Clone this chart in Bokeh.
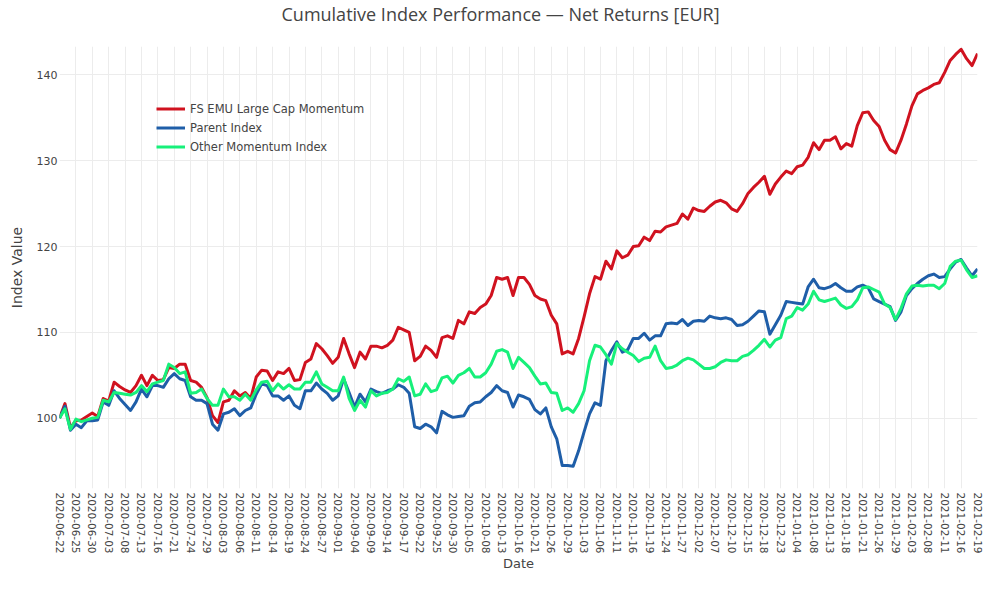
import math
from bokeh.plotting import figure
from bokeh.models import (ColumnDataSource, Range1d, FixedTicker, SingleIntervalTicker,
                          Legend, LegendItem)
from bokeh.embed import file_html
from bokeh.resources import INLINE

tick_labels = [
    "2020-06-22", "2020-06-25", "2020-06-30", "2020-07-03", "2020-07-08", "2020-07-13",
    "2020-07-16", "2020-07-21", "2020-07-24", "2020-07-29", "2020-08-03", "2020-08-06",
    "2020-08-11", "2020-08-14", "2020-08-19", "2020-08-24", "2020-08-27", "2020-09-01",
    "2020-09-04", "2020-09-09", "2020-09-14", "2020-09-17", "2020-09-22", "2020-09-25",
    "2020-09-30", "2020-10-05", "2020-10-08", "2020-10-13", "2020-10-16", "2020-10-21",
    "2020-10-26", "2020-10-29", "2020-11-03", "2020-11-06", "2020-11-11", "2020-11-16",
    "2020-11-19", "2020-11-24", "2020-11-27", "2020-12-02", "2020-12-07", "2020-12-10",
    "2020-12-15", "2020-12-18", "2020-12-23", "2021-01-04", "2021-01-08", "2021-01-13",
    "2021-01-18", "2021-01-21", "2021-01-26", "2021-01-29", "2021-02-03", "2021-02-08",
    "2021-02-11", "2021-02-16", "2021-02-19",
]

fs_emu = [
    100.0, 101.7, 98.9, 99.7, 99.8, 100.2, 100.6, 100.2, 102.3, 102.0,
    104.2, 103.7, 103.3, 103.0, 103.8, 105.0, 103.8, 105.0, 104.4, 104.5,
    105.9, 105.8, 106.3, 106.3, 104.4, 104.2, 103.6, 102.4, 100.3, 99.5,
    101.9, 102.1, 103.2, 102.6, 103.0, 102.3, 104.8, 105.6, 105.5, 104.4,
    105.4, 105.2, 105.8, 104.4, 104.5, 106.5, 106.9, 108.7, 108.1, 107.3,
    106.4, 107.1, 109.3, 107.5, 105.9, 107.7, 106.9, 108.4, 108.4, 108.2,
    108.5, 109.1, 110.6, 110.3, 110.0, 106.7, 107.2, 108.4, 107.9, 107.1,
    109.4, 109.6, 109.3, 111.4, 111.0, 112.4, 112.2, 112.9, 113.3, 114.3,
    116.4, 116.2, 116.4, 114.3, 116.4, 116.4, 115.6, 114.3, 113.9, 113.7,
    112.0, 111.0, 107.5, 107.8, 107.5, 109.3, 111.8, 114.5, 116.5, 116.2,
    118.3, 117.4, 119.5, 118.7, 119.0, 120.0, 120.1, 121.1, 120.7, 121.8,
    121.7, 122.3, 122.5, 122.7, 123.8, 123.2, 124.5, 124.2, 124.1, 124.7,
    125.2, 125.4, 125.1, 124.4, 124.1, 125.0, 126.2, 126.9, 127.5, 128.2,
    126.1, 127.3, 128.1, 128.8, 128.5, 129.3, 129.5, 130.4, 132.1, 131.3,
    132.4, 132.4, 132.8, 131.4, 132.0, 131.7, 134.1, 135.6, 135.7, 134.7,
    134.0, 132.4, 131.3, 130.9, 132.4, 134.3, 136.4, 137.8, 138.2, 138.5,
    138.9, 139.1, 140.3, 141.7, 142.4, 143.0, 141.9, 141.1, 142.5,
]

parent = [
    100.0, 101.4, 98.6, 99.3, 98.9, 99.7, 99.7, 99.8, 101.9, 101.5,
    103.2, 102.3, 101.6, 100.9, 101.9, 103.4, 102.5, 103.8, 103.8, 103.6,
    104.6, 105.2, 104.6, 104.4, 102.5, 102.1, 102.1, 101.7, 99.3, 98.6,
    100.5, 100.7, 101.1, 100.3, 100.9, 101.2, 102.8, 104.0, 103.8, 102.6,
    102.6, 102.1, 102.6, 101.5, 101.1, 103.2, 103.2, 104.1, 103.4, 102.9,
    102.1, 102.6, 104.6, 103.0, 101.3, 102.8, 101.9, 103.4, 103.1, 102.9,
    103.2, 103.4, 103.9, 103.6, 102.9, 99.0, 98.8, 99.3, 99.0, 98.3,
    100.8, 100.4, 100.1, 100.2, 100.3, 101.4, 101.8, 101.9, 102.5, 103.0,
    103.8, 103.2, 103.0, 101.3, 102.7, 102.5, 102.2, 101.0, 100.5, 101.2,
    99.0, 97.6, 94.5, 94.5, 94.4, 96.2, 98.4, 100.5, 101.8, 101.5,
    106.7, 107.9, 108.9, 107.7, 108.0, 109.3, 109.3, 109.9, 109.1, 109.6,
    109.6, 111.0, 111.1, 111.0, 111.5, 110.8, 111.3, 111.4, 111.3, 111.9,
    111.7, 111.6, 111.7, 111.5, 110.8, 110.9, 111.3, 111.9, 112.5, 112.4,
    109.8, 110.9, 112.0, 113.6, 113.5, 113.4, 113.3, 115.3, 116.2, 115.2,
    115.1, 115.3, 115.7, 115.2, 114.8, 114.8, 115.3, 115.5, 115.2, 113.9,
    113.6, 113.3, 113.0, 111.4, 112.4, 114.3, 115.1, 115.7, 116.2, 116.6,
    116.8, 116.4, 116.5, 117.4, 118.2, 118.5, 117.5, 116.6, 117.4,
]

other_mom = [
    100.0, 101.1, 98.7, 99.9, 99.6, 99.8, 100.0, 100.1, 102.1, 101.9,
    103.0, 102.9, 102.8, 102.7, 103.0, 103.8, 103.1, 104.0, 104.2, 104.4,
    106.3, 105.9, 105.2, 105.4, 102.9, 103.0, 103.4, 102.3, 101.5, 101.5,
    103.4, 102.5, 102.5, 102.1, 102.8, 102.1, 103.3, 104.2, 104.3, 103.2,
    104.0, 103.4, 103.9, 103.4, 103.4, 104.2, 104.2, 105.4, 104.0, 103.6,
    103.2, 103.2, 104.8, 102.3, 100.9, 102.1, 101.3, 103.2, 102.6, 102.9,
    103.0, 103.4, 104.6, 104.3, 104.8, 102.6, 102.8, 104.0, 103.1, 103.3,
    104.7, 104.9, 104.1, 105.0, 105.3, 105.8, 104.8, 104.8, 105.3, 106.3,
    107.8, 108.0, 107.7, 105.8, 107.1, 106.5, 105.9, 104.9, 104.0, 104.1,
    103.0, 102.9, 100.9, 101.2, 100.7, 101.7, 103.2, 106.7, 108.5, 108.3,
    107.4, 106.3, 108.7, 108.1, 107.7, 107.3, 106.6, 107.0, 107.1, 108.4,
    106.7, 105.8, 105.9, 106.2, 106.7, 107.0, 106.8, 106.3, 105.8, 105.8,
    106.0, 106.5, 106.8, 106.7, 106.7, 107.2, 107.4, 107.9, 108.5, 109.2,
    108.3, 109.1, 109.4, 111.6, 111.9, 112.9, 112.6, 113.3, 114.8, 113.8,
    113.6, 113.8, 114.0, 113.2, 112.8, 113.0, 113.8, 115.2, 115.3, 115.0,
    114.7, 113.3, 112.9, 111.5, 112.8, 114.5, 115.4, 115.5, 115.4, 115.5,
    115.5, 115.1, 115.7, 117.7, 118.3, 118.4, 117.3, 116.4, 116.6,
]

series_names = ["FS EMU Large Cap Momentum", "Parent Index", "Other Momentum Index"]
series_colors = ["#d0121f", "#1f5ea8", "#17f07a"]

title_text = "Cumulative Index Performance \u2014 Net Returns [EUR]"
x_title = "Date"
y_title = "Index Value"

FONT = "DejaVu Sans"
TXT = "#444444"

W, H = 984, 574
LEFT, RIGHT, TOP, BOTTOM = 59, 7, 46, 86

idx = list(range(len(fs_emu)))
src = ColumnDataSource(dict(x=idx, fs=fs_emu, parent=parent, other=other_mom))

p = figure(width=W, height=H, output_backend="svg", toolbar_location=None,
           x_range=Range1d(0, len(fs_emu) - 1), y_range=Range1d(91.81, 143.32),
           min_border_left=LEFT, min_border_right=RIGHT, min_border_top=TOP,
           min_border_bottom=BOTTOM)

# a blank second line lifts the title towards the top edge
p.title.text = title_text + "\n "
p.title.align = "left"
p.title.offset = 222
p.title.standoff = 0
p.title.text_line_height = 0.85
p.title.text_font = "Open Sans"
p.title.text_font_size = "18px"
p.title.text_font_style = "normal"
p.title.text_color = TXT

p.background_fill_color = "white"
p.border_fill_color = "white"
p.outline_line_color = None

r1 = p.line("x", "fs", source=src, line_color=series_colors[0], line_width=3, line_join="round")
r2 = p.line("x", "parent", source=src, line_color=series_colors[1], line_width=3, line_join="round")
r3 = p.line("x", "other", source=src, line_color=series_colors[2], line_width=3, line_join="round")

tick_pos = [3 * k for k in range(len(tick_labels))]
p.xaxis.ticker = FixedTicker(ticks=tick_pos)
p.xaxis.major_label_overrides = {t: lab for t, lab in zip(tick_pos, tick_labels)}
p.xaxis.major_label_orientation = -math.pi / 2
p.yaxis.ticker = SingleIntervalTicker(interval=10)
p.xaxis.axis_label = x_title
p.yaxis.axis_label = y_title

for ax in (p.xaxis, p.yaxis):
    ax.axis_line_color = None
    ax.major_tick_line_color = None
    ax.minor_tick_line_color = None
    ax.major_tick_out = 0
    ax.major_tick_in = 0
    ax.minor_tick_out = 0
    ax.minor_tick_in = 0
    ax.major_label_text_font = FONT
    ax.major_label_text_color = TXT
    ax.axis_label_text_font = FONT
    ax.axis_label_text_font_style = "normal"
    ax.axis_label_text_color = TXT

p.xaxis.major_label_text_font_size = "10.5px"
p.yaxis.major_label_text_font_size = "11px"
p.xaxis.major_label_standoff = 4
p.xaxis.axis_label_standoff = -1
p.xaxis.axis_label_text_font_size = "13px"
p.yaxis.major_label_standoff = 2
p.yaxis.axis_label_standoff = 9
p.yaxis.axis_label_text_font_size = "14px"

p.xgrid.grid_line_color = "#ececec"
p.ygrid.grid_line_color = "#ececec"

frame_h = H - TOP - BOTTOM

legend = Legend(items=[LegendItem(label=series_names[0], renderers=[r1]),
                       LegendItem(label=series_names[1], renderers=[r2]),
                       LegendItem(label=series_names[2], renderers=[r3])],
                location=(97, frame_h + TOP - 156), padding=0, margin=0, spacing=0,
                label_height=19, glyph_height=19, glyph_width=29, label_standoff=5,
                border_line_alpha=0, background_fill_alpha=0,
                label_text_font=FONT, label_text_font_size="11.5px",
                label_text_color=TXT)
p.add_layout(legend)

open("out.html", "w").write(file_html(p, INLINE))
